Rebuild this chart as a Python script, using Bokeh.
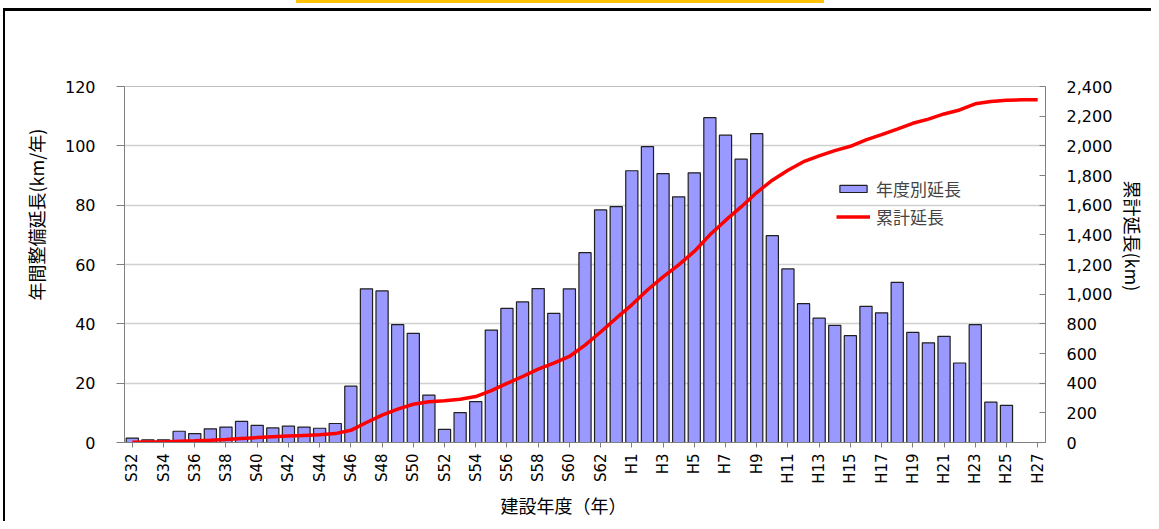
from bokeh.plotting import figure
from bokeh.models import Range1d, LinearAxis, FixedTicker, NumeralTickFormatter, Legend, LegendItem, ColumnDataSource, Title
from bokeh.embed import file_html
from bokeh.resources import INLINE

categories = ["S32","S33","S34","S35","S36","S37","S38","S39","S40","S41","S42","S43","S44","S45",
              "S46","S47","S48","S49","S50","S51","S52","S53","S54","S55","S56","S57","S58","S59",
              "S60","S61","S62","S63","H1","H2","H3","H4","H5","H6","H7","H8","H9","H10","H11",
              "H12","H13","H14","H15","H16","H17","H18","H19","H20","H21","H22","H23","H24","H25",
              "H26","H27"]
annual = [1.5, 0.9, 0.9, 3.8, 3.0, 4.6, 5.2, 7.1, 5.8, 4.9, 5.5, 5.2, 4.8, 6.4,
          19.0, 51.8, 51.1, 39.7, 36.8, 16.0, 4.4, 10.1, 13.8, 37.9, 45.2, 47.4, 51.9, 43.5,
          51.8, 64.0, 78.4, 79.5, 91.6, 99.7, 90.6, 82.8, 90.9, 109.5, 103.6, 95.5, 104.1, 69.7, 58.5,
          46.8, 41.9, 39.5, 36.0, 45.9, 43.7, 54.0, 37.1, 33.6, 35.8, 26.8, 39.7, 13.6, 12.5,
          None, None]
cumulative = [2, 3, 4, 8, 11, 15, 20, 27, 33, 38, 43, 48, 53, 60,
              82, 135, 185, 225, 258, 275, 281, 292, 310, 350, 398, 445, 495, 535,
              580, 657, 745, 838, 928, 1028, 1117, 1198, 1288, 1400, 1497, 1588, 1685, 1768, 1835,
              1893, 1932, 1968, 1997, 2040, 2075, 2113, 2152, 2180, 2215, 2242, 2283, 2299, 2308,
              2310, 2310]
left_ticks = [0, 20, 40, 60, 80, 100, 120]
right_ticks = [0, 200, 400, 600, 800, 1000, 1200, 1400, 1600, 1800, 2000, 2200, 2400]

xs = list(range(len(categories)))
bar_x = [x for x, v in zip(xs, annual) if v is not None]
bar_v = [v for v in annual if v is not None]

JP = "Noto Sans CJK JP"
NUM = "DejaVu Sans"

p = figure(width=1151, height=521, output_backend="svg", toolbar_location=None,
           x_range=Range1d(-0.5, len(categories) - 0.5), y_range=Range1d(0, 120),
           min_border_left=124, min_border_right=106, min_border_top=86, min_border_bottom=79)
p.extra_y_ranges = {"cum": Range1d(0, 2400)}
p.border_fill_color = None
p.background_fill_color = "white"
p.styles = {"background": "linear-gradient(#FFC000,#FFC000) 296px 0px / 528px 3px no-repeat, "
                          "linear-gradient(#000,#000) 3px 8px / 2px 700px no-repeat, "
                          "linear-gradient(#000,#000) 3px 8px / 1200px 3px no-repeat, #ffffff"}
p.outline_line_color = "#c0c0c0"
p.xgrid.grid_line_color = None
p.ygrid.grid_line_color = "#d0d0d0"
p.ygrid.grid_line_width = 1.5
p.ygrid.ticker = FixedTicker(ticks=left_ticks)

src = ColumnDataSource(dict(x=bar_x, v=bar_v))
bars = p.vbar(x="x", top="v", width=0.78, bottom=0, source=src,
              fill_color="#9999FF", line_color="#202020", line_width=1.2)
line = p.line(xs, cumulative, y_range_name="cum", line_color="#FF0000", line_width=3.5)

# x axis
xa = p.xaxis[0]
xa.ticker = FixedTicker(ticks=xs[::2])
xa.major_label_overrides = {i: categories[i] for i in xs[::2]}
xa.major_label_orientation = 1.5708
xa.major_label_text_font = NUM
xa.major_label_text_font_size = "15px"
xa.major_label_text_color = "#000000"
xa.major_label_standoff = 6
xa.major_tick_out = 5
xa.major_tick_in = 0
xa.minor_tick_out = 0
xa.minor_tick_in = 0
xa.axis_line_color = "#808080"
xa.major_tick_line_color = "#808080"

# left axis
ya = p.yaxis[0]
ya.ticker = FixedTicker(ticks=left_ticks)
ya.major_label_text_font = NUM
ya.major_label_text_font_size = "16px"
ya.major_label_text_color = "#000000"
ya.major_label_standoff = 21
ya.major_tick_out = 8
ya.major_tick_in = 0
ya.minor_tick_out = 0
ya.minor_tick_in = 0
ya.axis_line_color = "#808080"
ya.major_tick_line_color = "#808080"

# right axis
ra = LinearAxis(y_range_name="cum", ticker=FixedTicker(ticks=right_ticks),
                formatter=NumeralTickFormatter(format="0,0"))
ra.major_label_text_font = NUM
ra.major_label_text_font_size = "16px"
ra.major_label_text_color = "#000000"
ra.major_label_standoff = 21
ra.major_tick_out = 0
ra.major_tick_in = 6
ra.minor_tick_out = 0
ra.minor_tick_in = 0
ra.axis_line_color = "#808080"
ra.major_tick_line_color = "#808080"
p.add_layout(ra, "right")

# axis titles as side titles
t_left = Title(text="年間整備延長(km/年)", align="left", offset=142, standoff=26,
               text_font=JP, text_font_size="18px", text_font_style="normal", text_color="#000000")
p.add_layout(t_left, "left")
t_right = Title(text="累計延長(km)", align="left", offset=94, standoff=8,
                text_font=JP, text_font_size="18px", text_font_style="normal", text_color="#000000")
p.add_layout(t_right, "right")
t_below = Title(text="建設年度（年）", align="left", offset=376, standoff=7,
                text_font=JP, text_font_size="18px", text_font_style="normal", text_color="#000000")
p.add_layout(t_below, "below")

legend = Legend(items=[LegendItem(label="年度別延長", renderers=[bars]),
                       LegendItem(label="累計延長", renderers=[line])],
                location=(712, 213))
legend.border_line_color = None
legend.background_fill_alpha = 0
legend.label_text_font = JP
legend.label_text_font_size = "17px"
legend.glyph_width = 34
legend.glyph_height = 9
legend.label_height = 20
legend.spacing = 3
legend.padding = 4
legend.label_standoff = 6
p.add_layout(legend)

open("out.html", "w").write(file_html(p, INLINE))
